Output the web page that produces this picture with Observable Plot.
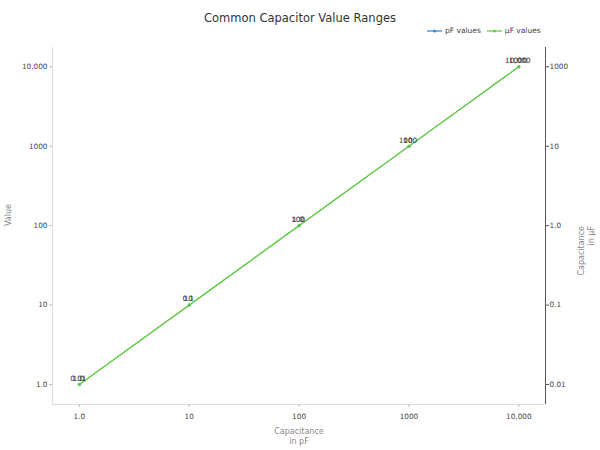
<!DOCTYPE html>
<html><head><meta charset="utf-8">
<script src="https://cdn.jsdelivr.net/npm/d3@7"></script>
<script src="https://cdn.jsdelivr.net/npm/@observablehq/plot@0.6"></script>
<style>
body{margin:0;background:#fff;font-family:"DejaVu Sans",sans-serif}
#wrap{position:relative;width:600px;height:450px;overflow:hidden}
#title{position:absolute;top:11px;left:0;width:600px;text-align:center;font-size:11.5px;color:#333}
#legend{position:absolute;top:26px;left:427px;font-size:7.5px;color:#444;display:flex;gap:6px;align-items:center}
#legend span{display:flex;align-items:center;gap:3px}
#chart{position:absolute;top:40px;left:0}
</style></head>
<body><div id="wrap"><div id="title">Common Capacitor Value Ranges</div><div id="legend"></div><div id="chart"></div></div>
<script>
const capacitance = [1, 10, 100, 1000, 10000];
const pFValues = [1, 10, 100, 1000, 10000];
const uFValues = [0.01, 0.1, 1.0, 10, 1000];
const pFLabels = ["1.0", "10", "100", "1000", "10,000"];
const uFLabels = ["0.01", "0.1", "1.0", "10", "1000"];
const xTickLabels = ["1.0", "10", "100", "1000", "10,000"];
const seriesNames = ["pF values", "µF values"];
const seriesColors = ["#3b8fd9", "#66cc44"];

const xDomain = [0.57, 17500];
const yDomain = [0.56, 17500];

const pRows = capacitance.map((c, i) => ({x: c, y: pFValues[i], s: seriesNames[0], label: pFLabels[i]}));
const uRows = capacitance.map((c, i) => ({x: c, y: pFValues[i], s: seriesNames[1], label: uFLabels[i], uF: uFValues[i]}));
const rows = pRows.concat(uRows);
const xLab = new Map(capacitance.map((c, i) => [c, xTickLabels[i]]));
const yLab = new Map(pFValues.map((v, i) => [v, pFLabels[i]]));
const rLab = new Map(pFValues.map((v, i) => [v, uFLabels[i]]));

const chart = Plot.plot({
  width: 600, height: 410,
  marginLeft: 52, marginRight: 55, marginTop: 7, marginBottom: 46,
  style: {fontFamily: "DejaVu Sans, sans-serif", fontSize: "7.3px", color: "#444", background: "#fff"},
  x: {type: "log", domain: xDomain},
  y: {type: "log", domain: yDomain},
  color: {domain: seriesNames, range: seriesColors},
  marks: [
    Plot.ruleX([xDomain[0]], {stroke: "#ddd"}),
    Plot.ruleY([yDomain[0]], {stroke: "#ddd"}),
    Plot.ruleX([xDomain[1]], {stroke: "#555"}),
    Plot.axisX(capacitance, {tickFormat: d => xLab.get(d), tickSize: 3, tickPadding: 6, stroke: "#bbb", fill: "#444", label: null}),
    Plot.axisY(pFValues, {anchor: "left", tickFormat: d => yLab.get(d), tickSize: 3, tickPadding: 2, stroke: "#bbb", fill: "#444", label: null}),
    Plot.axisY(pFValues, {anchor: "right", tickFormat: d => rLab.get(d), tickSize: 3, tickPadding: 1, stroke: "#555", fill: "#444", label: null}),
    Plot.line(pRows, {x: "x", y: "y", stroke: "s", strokeWidth: 0.8}),
    Plot.line(uRows, {x: "x", y: "y", stroke: "s", strokeWidth: 1.4}),
    Plot.dot(rows, {x: "x", y: "y", fill: "s", r: 1.6}),
    Plot.text(rows, {x: "x", y: "y", text: "label", dy: -6, dx: -1, fill: "#333", fontSize: 7.3}),
    Plot.text(["Capacitance\nin pF"], {frameAnchor: "bottom", dy: 39, fill: "#888", fontSize: 8, lineHeight: 1.25}),
    Plot.text(["Value"], {frameAnchor: "left", dx: -44, rotate: -90, fill: "#888", fontSize: 8}),
    Plot.text(["Capacitance\nin µF"], {frameAnchor: "right", dx: 40, rotate: -90, fill: "#888", fontSize: 8, lineHeight: 1.25})
  ]
});
document.getElementById("chart").appendChild(chart);

const legend = document.getElementById("legend");
seriesNames.forEach((n, i) => {
  const sp = document.createElement("span");
  sp.innerHTML = `<svg width="15" height="6"><line x1="0" y1="3" x2="15" y2="3" stroke="${seriesColors[i]}" stroke-width="1.3"/><circle cx="7.5" cy="3" r="1.6" fill="${seriesColors[i]}"/></svg>` + n;
  legend.appendChild(sp);
});
</script></body></html>
